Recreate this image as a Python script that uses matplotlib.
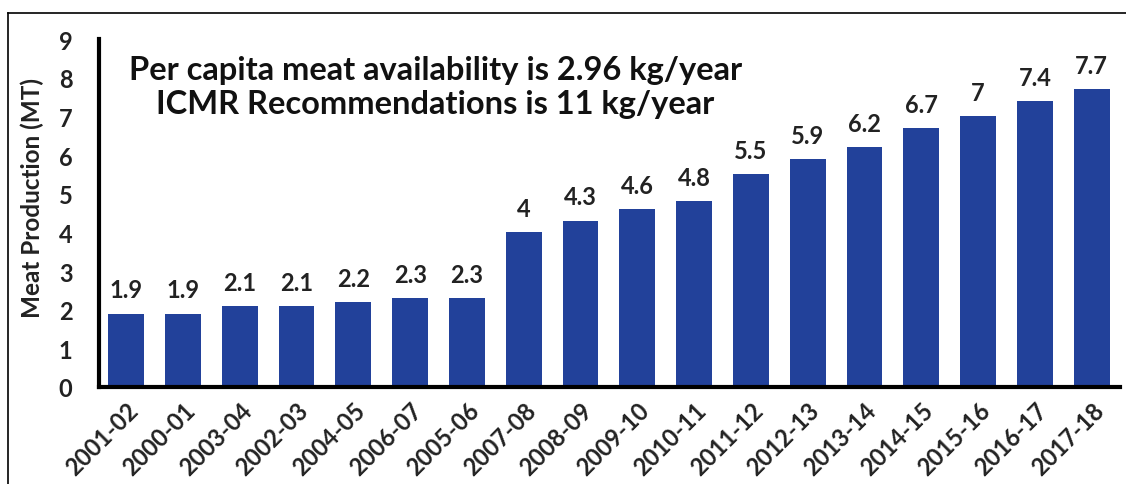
import matplotlib.pyplot as plt
from matplotlib.transforms import ScaledTranslation

# data
years = ["2001-02", "2000-01", "2003-04", "2002-03", "2004-05", "2006-07",
         "2005-06", "2007-08", "2008-09", "2009-10", "2010-11", "2011-12",
         "2012-13", "2013-14", "2014-15", "2015-16", "2016-17", "2017-18"]
production = [1.9, 1.9, 2.1, 2.1, 2.2, 2.3, 2.3, 4, 4.3, 4.6, 4.8, 5.5,
              5.9, 6.2, 6.7, 7, 7.4, 7.7]
value_labels = ["1.9", "1.9", "2.1", "2.1", "2.2", "2.3", "2.3", "4", "4.3",
                "4.6", "4.8", "5.5", "5.9", "6.2", "6.7", "7", "7.4", "7.7"]

plt.rcParams['font.family'] = ['Lato', 'DejaVu Sans']

fig = plt.figure(figsize=(11.26, 4.85), dpi=100)
ax = fig.add_axes([0.0879, 0.2, 0.9068, 0.7175])

x = list(range(len(years)))
ax.bar(x, production, width=0.63, color="#22419a")

for xi, v, lab in zip(x, production, value_labels):
    ax.text(xi, v + 0.42, lab, ha="center", va="baseline", fontsize=17,
            fontweight="bold", color="#222222")

ax.set_xlim(-0.48, 17.5)
ax.set_ylim(0, 9)
ax.set_yticks(range(0, 10))
ax.set_xticks(x)
ax.set_xticklabels(years, rotation=45, ha="right", rotation_mode="anchor",
                   fontsize=17, fontweight="bold", color="#222222")
shift = ScaledTranslation(-6 / 100, 0, fig.dpi_scale_trans)
for t in ax.get_xticklabels():
    t.set_transform(t.get_transform() + shift)
for t in ax.get_yticklabels():
    t.set_fontsize(17)
    t.set_fontweight("bold")
    t.set_color("#222222")
ax.tick_params(axis="both", length=0)
ax.tick_params(axis="y", pad=19)
ax.tick_params(axis="x", pad=8)

ax.set_ylabel("Meat Production (MT)", fontsize=17.5, fontweight="bold",
              color="#222222")
ax.yaxis.set_label_coords(-0.054, 0.546)

for side in ["top", "right"]:
    ax.spines[side].set_visible(False)
for side in ["left", "bottom"]:
    ax.spines[side].set_linewidth(3)
    ax.spines[side].set_color("black")

ax.text(5.44, 7.78, "Per capita meat availability is 2.96 kg/year\nICMR Recommendations is 11 kg/year",
        ha="center", va="center", fontsize=23.5, fontweight="bold",
        color="#111111", linespacing=1.2)

# outer frame, cut off at the bottom like the reference
fig.add_artist(plt.Line2D([0.007, 0.007], [0.0, 0.971], color="black", lw=1.2))
fig.add_artist(plt.Line2D([0.007, 1.0], [0.971, 0.971], color="black", lw=1.2))

fig.savefig("out.png", dpi=100)
